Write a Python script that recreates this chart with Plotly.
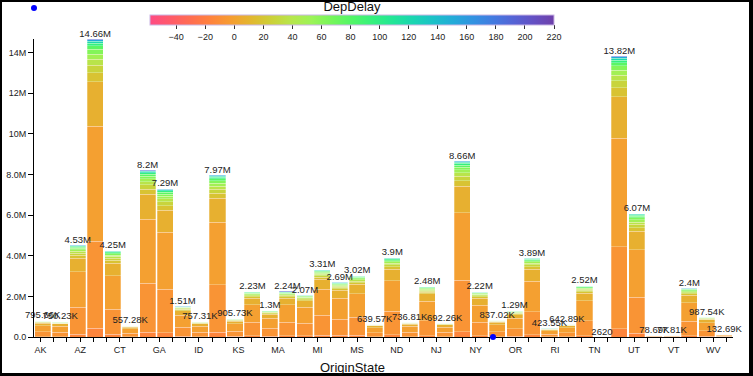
import math
import plotly.graph_objects as go

# states shown on the axis (every third gets a label)
axis_states = ["AK", "AL", "AR", "AZ", "CA", "CO", "CT", "DE", "FL", "GA", "HI", "IA", "ID",
               "IL", "IN", "KS", "KY", "LA", "MA", "MD", "ME", "MI", "MN", "MO", "MS", "MT",
               "NC", "ND", "NE", "NH", "NJ", "NM", "NV", "NY", "OH", "OK", "OR", "PA", "PR",
               "RI", "SC", "SD", "TN", "TT", "TX", "UT", "VA", "VI", "VT", "WA", "WI", "WV", "WY"]

# origin states that have bars
bar_states = ["AK", "AL", "AZ", "CA", "CO", "CT", "FL", "GA", "HI", "IA",
              "IL", "IN", "KY", "LA", "MA", "MD", "MI", "MN", "MO", "MS",
              "NC", "NE", "NJ", "NM", "NY", "OH", "OK", "OR", "PA", "PR",
              "SC", "TN", "TT", "TX", "UT", "VI", "VT", "WA", "WI", "WY"]

totals = [795660, 750230, 4530000, 14660000, 4250000, 557280, 8200000, 7290000, 1510000, 757310,
          7970000, 905730, 2230000, 1300000, 2240000, 2070000, 3310000, 2690000, 3020000, 639570,
          3900000, 736810, 2480000, 692260, 8660000, 2220000, 837020, 1290000, 3890000, 423550,
          642890, 2520000, 2620, 13820000, 6070000, 78690, 77810, 2400000, 987540, 132690]

# DepDelay buckets stacked in each bar and their share of the bar
delays = [-15, -7, -1, 8, 18, 28, 38, 50, 62, 78, 96, 120, 150, 190]
shares = [0.029, 0.293, 0.385, 0.149, 0.031, 0.025, 0.020, 0.017, 0.016, 0.012, 0.009, 0.007, 0.004, 0.003]

DELAY_MIN, DELAY_MAX = -58, 220
FONT = "Arial, Liberation Sans, sans-serif"


def rainbow(t):
    """d3.interpolateRainbow"""
    ts = abs(t - 0.5)
    h = (360 * t - 100 + 120) * math.pi / 180
    s = 1.5 - 1.5 * ts
    l = 0.8 - 0.9 * ts
    a = s * l * (1 - l)
    c, sn = math.cos(h), math.sin(h)
    r = l + a * (-0.14861 * c + 1.78277 * sn)
    g = l + a * (-0.29227 * c - 0.90649 * sn)
    b = l + a * (1.97294 * c)
    clip = lambda v: max(0, min(255, round(v * 255)))
    return f"rgb({clip(r)},{clip(g)},{clip(b)})"


def fmt(v):
    if v >= 1e6:
        return f"{v / 1e6:.2f}".rstrip("0").rstrip(".") + "M"
    if v >= 1e4:
        return f"{v / 1e3:.2f}".rstrip("0").rstrip(".") + "K"
    return str(int(v))


colorscale = [[i / 20, rainbow(0.2 + 0.8 * i / 20)] for i in range(21)]

fig = go.Figure()
for k, (d, sh) in enumerate(zip(delays, shares)):
    fig.add_trace(go.Bar(
        x=bar_states, y=[t * sh for t in totals], name=str(d),
        marker=dict(color=[d] * len(bar_states), colorscale=colorscale, cmin=DELAY_MIN, cmax=DELAY_MAX,
                    line=dict(color="rgba(255,255,255,0.45)", width=0.6),
                    showscale=(k == 0),
                    colorbar=dict(orientation="h", x=0.455, xanchor="center", yref="container",
                                  y=1.0, yanchor="top", len=404, lenmode="pixels",
                                  thickness=10, xpad=0, ypad=0,
                                  title=dict(text="DepDelay", side="top", font=dict(size=13, color="#111", family=FONT)),
                                  tick0=0, dtick=20, ticks="outside", ticklen=4, tickcolor="#333",
                                  tickfont=dict(size=9, color="#222", family=FONT),
                                  outlinewidth=1, outlinecolor="#c9b6e4")),
        showlegend=False,
    ))

fig.add_trace(go.Scatter(
    x=bar_states, y=totals, mode="text", text=[fmt(t) for t in totals],
    textposition="top center", textfont=dict(size=9.5, color="#222", family=FONT),
    cliponaxis=False, showlegend=False, hoverinfo="skip",
))

# invisible trace so the second axis knows all the states
fig.add_trace(go.Scatter(
    x=axis_states, y=[0] * len(axis_states), xaxis="x2", mode="markers",
    marker=dict(opacity=0), showlegend=False, hoverinfo="skip",
))

fig.update_layout(
    width=753, height=376,
    margin=dict(l=34, r=20, t=39, b=39, pad=0, autoexpand=False),
    barmode="stack", bargap=0.08,
    plot_bgcolor="white", paper_bgcolor="white",
    font=dict(family=FONT, color="#222"),
    xaxis=dict(type="category", categoryorder="array", categoryarray=bar_states,
               range=[-0.5, len(bar_states) - 0.5], showticklabels=False, ticks="",
               showline=True, linecolor="black", linewidth=1, showgrid=False, zeroline=False),
    xaxis2=dict(type="category", overlaying="x", anchor="y", side="bottom",
                categoryorder="array", categoryarray=axis_states,
                range=[-0.5, len(axis_states) - 0.5],
                tickmode="array", tickvals=axis_states,
                ticktext=[s if i % 3 == 0 else "" for i, s in enumerate(axis_states)],
                ticks="outside", ticklen=4, tickcolor="black",
                tickfont=dict(size=9, color="#222", family=FONT),
                showline=False, showgrid=False, zeroline=False),
    yaxis=dict(range=[0, max(totals)], tickformat=".2s", dtick=2e6, ticks="outside", ticklen=5,
               tickcolor="black", showline=True, linecolor="black", linewidth=1,
               showgrid=False, zeroline=False, tickfont=dict(size=9, color="#222", family=FONT)),
    annotations=[dict(text="OriginState", xref="paper", yref="paper", x=0.455, y=-0.104,
                      xanchor="center", yanchor="middle", showarrow=False,
                      font=dict(size=13, color="#111", family=FONT))],
    shapes=[
        # frame around the whole picture
        dict(type="rect", xref="paper", yref="paper", x0=-34 / 699, x1=(751 - 34) / 699,
             y0=(337 - 375) / 298, y1=337 / 298, line=dict(color="black", width=4)),
        # the two blue dots
        dict(type="circle", xref="paper", yref="paper", xsizemode="pixel", ysizemode="pixel",
             xanchor=0, yanchor=(337 - 8) / 298, x0=-3, x1=3, y0=-3, y1=3,
             fillcolor="blue", line=dict(width=0)),
        dict(type="circle", xref="paper", yref="paper", xsizemode="pixel", ysizemode="pixel",
             xanchor=(493 - 34) / 699, yanchor=0, x0=-3, x1=3, y0=-3, y1=3,
             fillcolor="blue", line=dict(width=0)),
    ],
)

fig.write_html("out.html", config={"displayModeBar": False},
               post_script="document.body.style.margin = '0px';")
